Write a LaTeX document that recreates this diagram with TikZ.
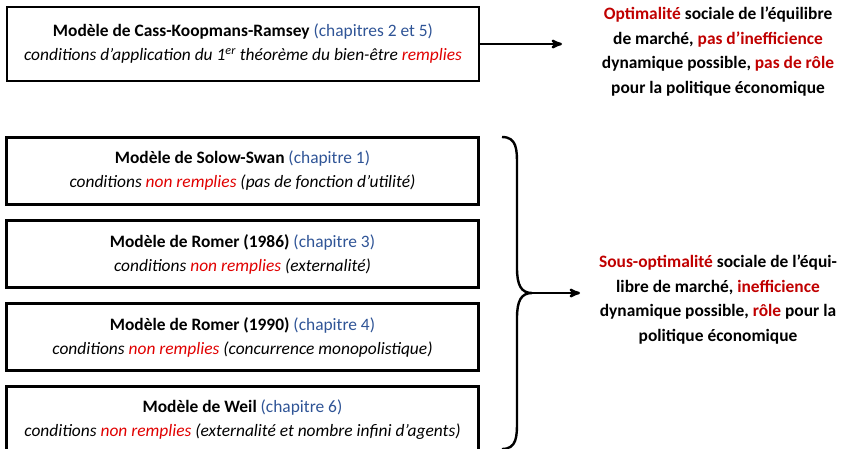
\documentclass[tikz,border=0pt]{standalone}
\usepackage{fontspec}
\setmainfont{Carlito}
\usetikzlibrary{positioning, arrows}
\definecolor{chapblue}{HTML}{2F5496}
\definecolor{darkred}{HTML}{C00000}
\definecolor{brightred}{HTML}{E00000}

\begin{document}
\begin{tikzpicture}[->,>=stealth',x=1pt,y=-1pt,line width=2.4pt,node distance=13.6pt,
    model/.style={draw,rectangle,minimum width=472pt,minimum height=67pt,inner sep=0pt,
                  align=center,font=\fontsize{17.4}{24}\selectfont},
    result/.style={align=center,font=\fontsize{17.4}{24.7}\selectfont\bfseries}]
\useasboundingbox (0,0) rectangle (842,448);

        % optimal case
        \node[model, minimum height=74pt] (cass) at (243,44)
            {\textbf{Modèle de Cass-Koopmans-Ramsey} \textcolor{chapblue}{(chapitres 2 et 5)}\\
             \textit{conditions d’application du 1\textsuperscript{er} théorème du bien-être \textcolor{brightred}{remplies}}};
        \node[result] (optim) at (718,51.5)
            {\textcolor{darkred}{Optimalité} sociale de l’équilibre\\
             de marché, \textcolor{darkred}{pas d’inefficience}\\
             dynamique possible, \textcolor{darkred}{pas de rôle}\\
             pour la politique économique};

        % sub-optimal cases
        \node[model] (solow) at (242.5,171)
            {\textbf{Modèle de Solow-Swan} \textcolor{chapblue}{(chapitre 1)}\\
             \textit{conditions \textcolor{brightred}{non remplies} (pas de fonction d’utilité)}};
        \node[model] (romerA) [below=of solow]
            {\textbf{Modèle de Romer (1986)} \textcolor{chapblue}{(chapitre 3)}\\
             \textit{conditions \textcolor{brightred}{non remplies} (externalité)}};
        \node[model] (romerB) [below=of romerA]
            {\textbf{Modèle de Romer (1990)} \textcolor{chapblue}{(chapitre 4)}\\
             \textit{conditions \textcolor{brightred}{non remplies} (concurrence monopolistique)}};
        \node[model] (weil) [below=of romerB]
            {\textbf{Modèle de Weil} \textcolor{chapblue}{(chapitre 6)}\\
             \textit{conditions \textcolor{brightred}{non remplies} (externalité et nombre infini d’agents)}};
        \node[result] (sousopt) at (718,299.5)
            {\textcolor{darkred}{Sous-optimalité} sociale de l’équi-\\
             libre de marché, \textcolor{darkred}{inefficience}\\
             dynamique possible, \textcolor{darkred}{rôle} pour la\\
             politique économique};

        \coordinate (optarrow) at (562,44);
        \coordinate (brtop) at (502,137);
        \coordinate (brmid) at (532,293);
        \coordinate (brbot) at (502,449);
        \coordinate (sousarrow) at (580,293);

        \draw (cass) -- (optarrow);
        \draw[-] (brtop) .. controls (517,137) and (517,150) .. (517,165) -- (517,268)
            .. controls (517,285) and (521,293) .. (brmid)
            .. controls (521,293) and (517,301) .. (517,318) -- (517,421)
            .. controls (517,436) and (517,449) .. (brbot);
        \draw (brmid) -- (sousarrow);
\end{tikzpicture}
\end{document}
